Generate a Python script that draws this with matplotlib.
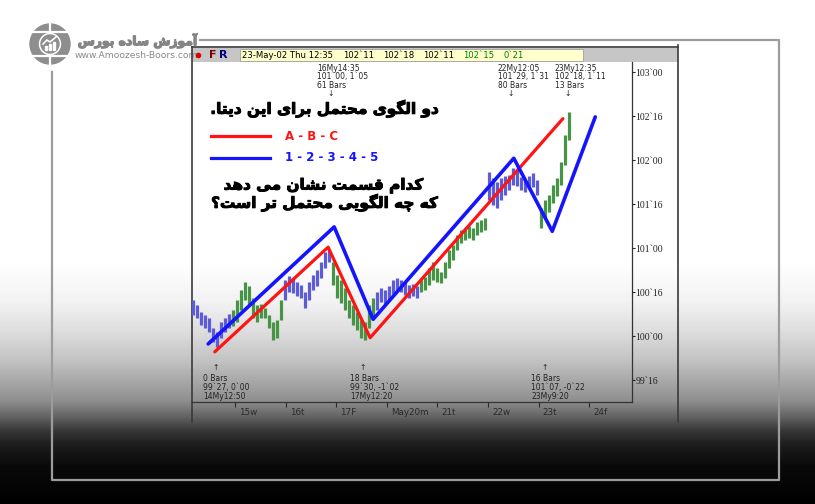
import numpy as np
import matplotlib.pyplot as plt
import matplotlib.patheffects as pe
from matplotlib.patches import Rectangle, Circle
from matplotlib.transforms import ScaledTranslation, blended_transform_factory

# ---- data ----
day_labels = ['15w', '16t', '17F', 'May20m', '21t', '22w', '23t', '24f']
price_ticks = [99.5, 100.0, 100.5, 101.0, 101.5, 102.0, 102.5, 103.0]

bar_high = [100.41, 100.35, 100.27, 100.24, 100.20, 100.09, 100.05, 100.16, 100.20, 100.25,
            100.30, 100.41, 100.52, 100.61, 100.57, 100.43, 100.35, 100.36, 100.32, 100.24,
            100.16, 100.18, 100.41, 100.64, 100.68, 100.66, 100.61, 100.58, 100.50, 100.61,
            100.69, 100.75, 100.84, 100.95, 100.98, 100.84, 100.69, 100.64, 100.55, 100.41,
            100.35, 100.27, 100.18, 100.16, 100.35, 100.43, 100.50, 100.55, 100.52, 100.57,
            100.64, 100.66, 100.64, 100.61, 100.58, 100.59, 100.57, 100.64, 100.67, 100.77,
            100.84, 100.77, 100.73, 100.84, 100.98, 101.03, 101.15, 101.20, 101.23, 101.25,
            101.23, 101.30, 101.32, 101.34, 101.86, 101.80, 101.75, 101.80, 101.82, 101.83,
            101.91, 101.89, 101.81, 101.77, 101.82, 101.85, 101.77, 101.45, 101.55, 101.60,
            101.72, 101.80, 101.98, 102.28, 102.55]
bar_low = [100.24, 100.20, 100.13, 100.09, 100.05, 99.93, 99.88, 99.98, 100.05, 100.09,
           100.11, 100.16, 100.30, 100.41, 100.35, 100.20, 100.16, 100.20, 100.20, 100.09,
           99.95, 99.98, 100.18, 100.41, 100.50, 100.49, 100.45, 100.43, 100.32, 100.41,
           100.52, 100.57, 100.66, 100.77, 100.84, 100.58, 100.43, 100.38, 100.30, 100.20,
           100.13, 100.07, 99.98, 99.95, 100.09, 100.20, 100.30, 100.39, 100.36, 100.41,
           100.48, 100.52, 100.50, 100.47, 100.43, 100.45, 100.43, 100.50, 100.52, 100.58,
           100.64, 100.61, 100.60, 100.66, 100.77, 100.86, 100.98, 101.06, 101.09, 101.11,
           101.09, 101.15, 101.18, 101.20, 101.55, 101.49, 101.45, 101.55, 101.60, 101.66,
           101.72, 101.70, 101.66, 101.64, 101.68, 101.69, 101.60, 101.23, 101.35, 101.41,
           101.51, 101.59, 101.72, 101.94, 102.23]
bar_kind = 'b' * 10 + 'g' * 13 + 'b' * 12 + 'g' * 11 + 'b' * 11 + 'g' * 17 + 'b' * 13 + 'g' * 8

abc_x = [-0.40, 1.84, 2.67, 6.48]
abc_y = [99.82, 101.01, 99.98, 102.47]
wave_x = [-0.53, 1.96, 2.73, 5.51, 6.27, 7.12]
wave_y = [99.91, 101.24, 100.19, 102.02, 101.19, 102.49]

top_marks_x = [1.88, 5.45, 6.58]
top_marks_txt = ['16My14:35\n101`00, 1`05\n61 Bars',
                 '22My12:05\n101`29, 1`31\n80 Bars',
                 '23My12:35\n102`18, 1`11\n13 Bars']
bot_marks_x = [-0.38, 2.53, 6.11]
bot_marks_txt = ['0 Bars\n99`27, 0`00\n14My12:50',
                 '18 Bars\n99`30, -1`02\n17My12:20',
                 '16 Bars\n101`07, -0`22\n23My9:20']

header_black = ['23-May-02 Thu 12:35', '102`11', '102`18', '102`11']
header_green = ['102`15', '0`21']

title_fa = 'دو الگوی محتمل برای این دیتا.'
question_fa = ['کدام قسمت نشان می دهد', 'که چه الگویی محتمل تر است؟']
legend_txt = ['A - B - C', '1 - 2 - 3 - 4 - 5']
logo_fa = 'آموزش ساده بورس'
logo_url = 'www.Amoozesh-Boors.com'

# ---- simple persian shaping (matplotlib has no text shaping) ----
FORMS = {
    'ا': ('\ufe8d', '\ufe8e', None, None), 'آ': ('\ufe81', '\ufe82', None, None),
    'د': ('\ufea9', '\ufeaa', None, None), 'ر': ('\ufead', '\ufeae', None, None),
    'ز': ('\ufeaf', '\ufeb0', None, None), 'و': ('\ufeed', '\ufeee', None, None),
    'ب': ('\ufe8f', '\ufe90', '\ufe91', '\ufe92'), 'ت': ('\ufe95', '\ufe96', '\ufe97', '\ufe98'),
    'ح': ('\ufea1', '\ufea2', '\ufea3', '\ufea4'), 'س': ('\ufeb1', '\ufeb2', '\ufeb3', '\ufeb4'),
    'ش': ('\ufeb5', '\ufeb6', '\ufeb7', '\ufeb8'), 'ق': ('\ufed5', '\ufed6', '\ufed7', '\ufed8'),
    'ل': ('\ufedd', '\ufede', '\ufedf', '\ufee0'), 'م': ('\ufee1', '\ufee2', '\ufee3', '\ufee4'),
    'ن': ('\ufee5', '\ufee6', '\ufee7', '\ufee8'), 'ه': ('\ufee9', '\ufeea', '\ufeeb', '\ufeec'),
    'ی': ('\ufbfc', '\ufbfd', '\ufbfe', '\ufbff'), 'ک': ('\ufb8e', '\ufb8f', '\ufb90', '\ufb91'),
    'گ': ('\ufb92', '\ufb93', '\ufb94', '\ufb95'), 'چ': ('\ufb7a', '\ufb7b', '\ufb7c', '\ufb7d'),
}


def fa(txt):
    out = []
    for i, ch in enumerate(txt):
        f = FORMS.get(ch)
        if f is None:
            out.append(ch)
            continue
        prev = txt[i - 1] if i > 0 else ''
        nxt = txt[i + 1] if i + 1 < len(txt) else ''
        jp = prev in FORMS and FORMS[prev][2] is not None
        jn = f[2] is not None and nxt in FORMS
        out.append(f[3] if jp and jn else f[1] if jp else f[2] if jn else f[0])
    return ''.join(reversed(out))


def fmt32(v):
    w = int(v)
    return '%d`%02d' % (w, round((v - w) * 32))


fig = plt.figure(figsize=(8.15, 5.04), dpi=100)

# background gradient + pixel overlay
bg = fig.add_axes([0, 0, 1, 1])
rows = np.arange(504)
shade = np.interp(rows, [0, 260, 300, 330, 360, 380, 400, 415, 430, 445, 465, 504],
                  [1.0, 1.0, 0.95, 0.87, 0.76, 0.66, 0.56, 0.40, 0.22, 0.11, 0.04, 0.0])
bg.imshow(np.repeat(shade[:, None], 2, axis=1), cmap='gray', vmin=0, vmax=1,
          aspect='auto', extent=[0, 815, 504, 0], zorder=0)
bg.set_xlim(0, 815)
bg.set_ylim(504, 0)
bg.axis('off')

# outer frame
fc = '#9c9c9c'
bg.plot([200, 779, 779, 52, 52], [40, 40, 480, 480, 72], color=fc, lw=1.6)

# logo: grey globe with a small chart in the middle
gc = '#8e8e8e'
bg.add_patch(Circle((50, 44), 20, color=gc, zorder=2))
for yy in (32, 56):
    bg.plot([29, 71], [yy, yy], color='white', lw=1.6, zorder=3)
bg.plot([50, 50], [23, 30], color='white', lw=1.6, zorder=3)
bg.plot([50, 50], [58, 65], color='white', lw=1.6, zorder=3)
bg.add_patch(Circle((50, 44), 10.5, color='white', zorder=4))
bg.add_patch(Circle((50, 44), 9, color=gc, zorder=4))
for bx, bh in ((44.5, 4), (48.5, 6), (52.5, 8)):
    bg.add_patch(Rectangle((bx, 50 - bh), 2.2, bh, color='white', zorder=5))
bg.plot([43, 47, 50, 56], [44, 40, 42, 37], color='white', lw=1.2, zorder=5)
bg.text(197, 41, fa(logo_fa), ha='right', va='center', fontsize=8.9,
        fontweight='bold', color='#858585', family='DejaVu Sans',
        path_effects=[pe.withStroke(linewidth=0.9, foreground='#858585')])
bg.text(75, 56, logo_url, ha='left', va='center', fontsize=6.6, color='#8a8a8a')

# screenshot border and header
bg.plot([192, 192], [47, 422], color='#3a3a3a', lw=1.2, zorder=3)
bg.plot([678, 678], [45, 422], color='#3a3a3a', lw=1.2, zorder=3)
bg.plot([192, 678], [47, 47], color='#3a3a3a', lw=1.2, zorder=3)
bg.add_patch(Rectangle((192, 48), 486, 14, fc='#c6c6c6', ec='none', zorder=2))
bg.add_patch(Rectangle((240, 49), 343, 12, fc='#ffffcc', ec='#a0a0a0', lw=0.6, zorder=3))
bg.plot([198], [55], 'o', color='#e00000', ms=3, zorder=4)
bg.text(209, 55.5, 'F', color='#800000', fontsize=8, fontweight='bold', va='center', zorder=4)
bg.text(219, 55.5, 'R', color='#000080', fontsize=8, fontweight='bold', va='center', zorder=4)
for s, xx in zip(header_black, [242, 343, 383, 423]):
    bg.text(xx, 55.5, s, fontsize=6.1, va='center', color='black', zorder=4)
for s, xx in zip(header_green, [463, 503]):
    bg.text(xx, 55.5, s, fontsize=6.1, va='center', color='#008000', zorder=4)

# ---- price chart ----
ax = fig.add_axes([192 / 815, 102 / 504, 440 / 815, 340 / 504])
ax.set_facecolor('none')
bx = np.linspace(-0.83, 6.60, len(bar_high))
cols = ['#5c5cd8' if k == 'b' else '#479447' for k in bar_kind]
ax.vlines(bx, bar_low, bar_high, colors=cols, lw=2.3, zorder=2)
ax.plot(abc_x, abc_y, color='#ff1414', lw=2.3, zorder=3, solid_capstyle='round')
ax.plot(wave_x, wave_y, color='#1414ff', lw=2.6, zorder=4, solid_capstyle='round')

ax.set_xlim(-0.85, 7.846)
ax.set_ylim(99.25, 103.114)
ax.set_yticks(price_ticks)
ax.set_yticklabels([fmt32(v) for v in price_ticks], family='Liberation Serif', fontsize=7)
ax.yaxis.tick_right()
ax.tick_params(axis='y', direction='out', length=2, width=0.8, pad=0.5, colors='#222222')
ax.set_xticks(range(len(day_labels)))
ax.set_xticklabels(day_labels, ha='left', fontsize=6.3, color='#2a2a2a')
ax.tick_params(axis='x', direction='out', length=3.5, width=0.8, pad=1, colors='#2a2a2a')
off = ScaledTranslation(3 / 72, 0, fig.dpi_scale_trans)
for lbl in ax.get_xticklabels():
    lbl.set_transform(lbl.get_transform() + off)
for sp in ('top', 'left'):
    ax.spines[sp].set_visible(False)
for sp in ('right', 'bottom'):
    ax.spines[sp].set_color('#333333')
    ax.spines[sp].set_linewidth(0.9)

tr = blended_transform_factory(ax.transData, ax.transAxes)
lo = ScaledTranslation(-13 / 100, 0, fig.dpi_scale_trans)
for xx, s in zip(top_marks_x, top_marks_txt):
    ax.text(xx, 0.995, s, transform=tr + lo, ha='left', va='top', fontsize=5.5,
            linespacing=0.95, color='#222222')
    ax.text(xx, 0.907, '↓', transform=tr, ha='center', va='center', fontsize=5.5, color='#222222')
for xx, s in zip(bot_marks_x, bot_marks_txt):
    ax.text(xx, 0.004, s, transform=tr + lo, ha='left', va='bottom', fontsize=5.5,
            linespacing=0.95, color='#222222')
    ax.text(xx, 0.1, '↑', transform=tr, ha='center', va='center', fontsize=5.5, color='#222222')

# persian title, legend and question
bold = [pe.withStroke(linewidth=0.7, foreground='black')]
axf = ax.transAxes
ax.text(0.30, 0.862, fa(title_fa), transform=axf, ha='center', va='center', fontsize=11,
        fontweight='bold', color='black', family='DejaVu Sans', path_effects=bold)
ax.plot([0.043, 0.178], [0.781, 0.781], transform=axf, color='#ff1414', lw=2.3)
ax.plot([0.043, 0.178], [0.719, 0.719], transform=axf, color='#1414ff', lw=2.3)
ax.text(0.211, 0.781, legend_txt[0], transform=axf, ha='left', va='center', fontsize=8.5,
        fontweight='bold', color='#ff1414')
ax.text(0.211, 0.719, legend_txt[1], transform=axf, ha='left', va='center', fontsize=8.5,
        fontweight='bold', color='#1414ff')
ax.text(0.298, 0.638, fa(question_fa[0]), transform=axf, ha='center', va='center',
        fontsize=11, fontweight='bold', color='black', family='DejaVu Sans', path_effects=bold)
ax.text(0.30, 0.585, fa(question_fa[1]), transform=axf, ha='center', va='center',
        fontsize=11, fontweight='bold', color='black', family='DejaVu Sans', path_effects=bold)

fig.savefig('out.png', dpi=100)
